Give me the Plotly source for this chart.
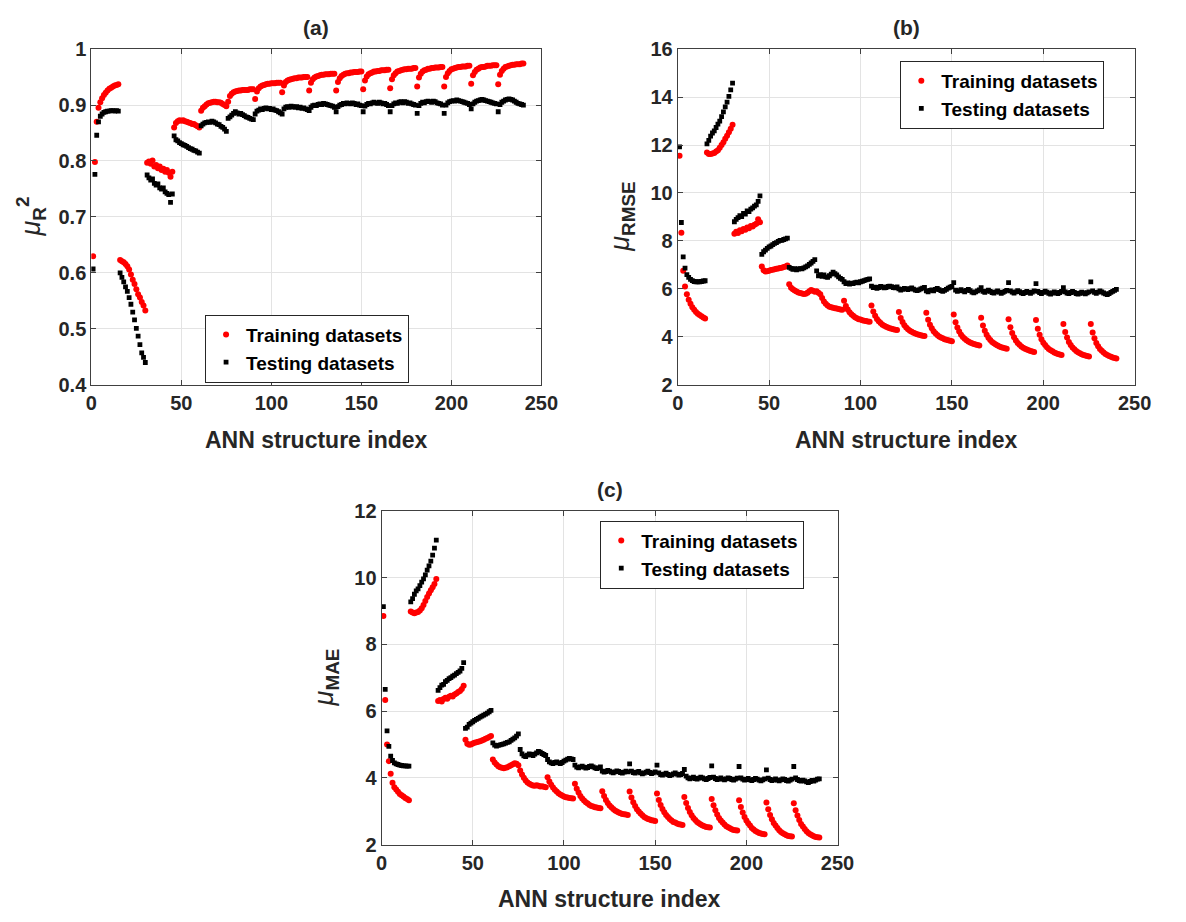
import plotly.graph_objects as go

# ANN structure index (x categories)
structure_index = list(range(1, 241))

# ---------------- Panel (a): mean R^2 ----------------
r2_train = [
    0.630, 0.798, 0.870, 0.895, 0.905, 0.912, 0.918, 0.922, 0.926, 0.929, 0.931, 0.933, 0.935, 0.936, 0.937,
    0.623, 0.621, 0.619, 0.616, 0.612, 0.606, 0.597, 0.588, 0.580, 0.571, 0.562, 0.556, 0.548, 0.542, 0.533,
    0.797, 0.799, 0.795, 0.801, 0.790, 0.793, 0.787, 0.790, 0.784, 0.786, 0.781, 0.784, 0.779, 0.772, 0.781,
    0.860, 0.868, 0.871, 0.873, 0.872, 0.873, 0.871, 0.870, 0.869, 0.868, 0.866, 0.866, 0.864, 0.862, 0.860,
    0.890, 0.895, 0.898, 0.901, 0.903, 0.904, 0.905, 0.906, 0.906, 0.905, 0.905, 0.904, 0.902, 0.900, 0.898,
    0.906, 0.916, 0.920, 0.923, 0.924, 0.925, 0.926, 0.926, 0.927, 0.927, 0.927, 0.927, 0.928, 0.928, 0.928,
    0.911, 0.924, 0.930, 0.933, 0.935, 0.936, 0.937, 0.938, 0.938, 0.939, 0.939, 0.939, 0.940, 0.940, 0.940,
    0.923, 0.935, 0.941, 0.944, 0.945, 0.946, 0.947, 0.948, 0.948, 0.949, 0.949, 0.949, 0.950, 0.950, 0.950,
    0.926, 0.940, 0.946, 0.949, 0.951, 0.952, 0.953, 0.954, 0.954, 0.955, 0.955, 0.955, 0.956, 0.956, 0.956,
    0.926, 0.941, 0.948, 0.952, 0.954, 0.956, 0.957, 0.957, 0.958, 0.958, 0.959, 0.959, 0.959, 0.960, 0.960,
    0.928, 0.944, 0.951, 0.955, 0.957, 0.958, 0.960, 0.960, 0.961, 0.961, 0.962, 0.962, 0.962, 0.963, 0.963,
    0.930, 0.946, 0.953, 0.957, 0.960, 0.961, 0.962, 0.963, 0.964, 0.964, 0.965, 0.965, 0.965, 0.966, 0.966,
    0.933, 0.949, 0.956, 0.960, 0.962, 0.963, 0.965, 0.965, 0.966, 0.966, 0.967, 0.967, 0.967, 0.968, 0.968,
    0.933, 0.950, 0.957, 0.961, 0.964, 0.965, 0.966, 0.967, 0.968, 0.968, 0.969, 0.969, 0.969, 0.970, 0.970,
    0.938, 0.953, 0.959, 0.963, 0.965, 0.967, 0.968, 0.968, 0.969, 0.970, 0.970, 0.970, 0.971, 0.971, 0.971,
    0.937, 0.954, 0.961, 0.965, 0.968, 0.969, 0.970, 0.971, 0.972, 0.972, 0.973, 0.973, 0.973, 0.974, 0.974,
]
r2_test = [
    0.607, 0.776, 0.846, 0.870, 0.880, 0.884, 0.887, 0.888, 0.889, 0.889, 0.890, 0.890, 0.889, 0.890, 0.889,
    0.600, 0.592, 0.584, 0.575, 0.567, 0.556, 0.544, 0.530, 0.516, 0.501, 0.487, 0.472, 0.457, 0.449, 0.440,
    0.775, 0.770, 0.766, 0.768, 0.760, 0.757, 0.759, 0.752, 0.750, 0.752, 0.745, 0.742, 0.740, 0.726, 0.741,
    0.845, 0.838, 0.836, 0.833, 0.831, 0.829, 0.828, 0.826, 0.824, 0.822, 0.821, 0.819, 0.818, 0.816, 0.814,
    0.863, 0.866, 0.868, 0.869, 0.870, 0.869, 0.871, 0.870, 0.868, 0.866, 0.865, 0.862, 0.860, 0.857, 0.853,
    0.876, 0.879, 0.882, 0.885, 0.888, 0.886, 0.884, 0.885, 0.883, 0.881, 0.879, 0.878, 0.876, 0.875, 0.874,
    0.884, 0.889, 0.891, 0.893, 0.892, 0.894, 0.895, 0.893, 0.894, 0.892, 0.893, 0.891, 0.890, 0.888, 0.886,
    0.884, 0.893, 0.896, 0.897, 0.896, 0.898, 0.897, 0.896, 0.897, 0.895, 0.896, 0.894, 0.895, 0.893, 0.892,
    0.890, 0.896, 0.899, 0.900, 0.899, 0.901, 0.902, 0.901, 0.903, 0.902, 0.901, 0.900, 0.899, 0.898, 0.896,
    0.888, 0.897, 0.900, 0.901, 0.903, 0.902, 0.904, 0.903, 0.902, 0.904, 0.903, 0.901, 0.902, 0.900, 0.899,
    0.888, 0.898, 0.901, 0.903, 0.902, 0.904, 0.905, 0.904, 0.903, 0.905, 0.904, 0.902, 0.903, 0.901, 0.899,
    0.888, 0.899, 0.902, 0.904, 0.903, 0.905, 0.906, 0.904, 0.906, 0.905, 0.903, 0.904, 0.902, 0.901, 0.900,
    0.885, 0.899, 0.903, 0.905, 0.904, 0.906, 0.907, 0.906, 0.905, 0.907, 0.906, 0.904, 0.903, 0.902, 0.900,
    0.885, 0.900, 0.904, 0.906, 0.907, 0.908, 0.907, 0.909, 0.908, 0.907, 0.906, 0.905, 0.904, 0.903, 0.901,
    0.893, 0.902, 0.905, 0.907, 0.908, 0.909, 0.910, 0.909, 0.908, 0.907, 0.906, 0.905, 0.904, 0.903, 0.902,
    0.888, 0.901, 0.905, 0.907, 0.909, 0.910, 0.911, 0.910, 0.909, 0.907, 0.905, 0.903, 0.902, 0.901, 0.900,
]

# ---------------- Panel (b): mean RMSE ----------------
rmse_train = [
    11.55, 8.34, 6.76, 6.10, 5.78, 5.55, 5.38, 5.24, 5.13, 5.04, 4.97, 4.91, 4.86, 4.81, 4.77,
    11.69, 11.62, 11.62, 11.65, 11.67, 11.73, 11.78, 11.89, 12.00, 12.12, 12.26, 12.39, 12.53, 12.68, 12.84,
    8.30, 8.38, 8.33, 8.45, 8.40, 8.50, 8.47, 8.56, 8.53, 8.62, 8.60, 8.68, 8.72, 8.90, 8.78,
    6.94, 6.78, 6.73, 6.74, 6.76, 6.79, 6.80, 6.82, 6.84, 6.85, 6.87, 6.88, 6.91, 6.94, 6.98,
    6.19, 6.05, 5.99, 5.93, 5.89, 5.85, 5.83, 5.81, 5.79, 5.80, 5.84, 5.90, 5.95, 5.92, 5.88,
    5.90, 5.84, 5.78, 5.62, 5.48, 5.38, 5.31, 5.26, 5.24, 5.21, 5.19, 5.18, 5.16, 5.14, 5.13,
    5.51, 5.29, 5.14, 5.03, 4.94, 4.88, 4.82, 4.78, 4.74, 4.72, 4.69, 4.67, 4.66, 4.64, 4.63,
    5.31, 5.06, 4.88, 4.75, 4.65, 4.58, 4.51, 4.46, 4.42, 4.39, 4.36, 4.34, 4.32, 4.30, 4.29,
    5.04, 4.79, 4.62, 4.49, 4.39, 4.32, 4.26, 4.21, 4.17, 4.14, 4.11, 4.09, 4.07, 4.05, 4.04,
    5.01, 4.71, 4.51, 4.36, 4.24, 4.15, 4.08, 4.02, 3.97, 3.94, 3.90, 3.88, 3.86, 3.84, 3.82,
    4.93, 4.61, 4.39, 4.22, 4.09, 4.00, 3.92, 3.86, 3.81, 3.77, 3.73, 3.70, 3.68, 3.66, 3.64,
    4.80, 4.48, 4.26, 4.09, 3.96, 3.87, 3.79, 3.73, 3.68, 3.64, 3.60, 3.57, 3.55, 3.53, 3.51,
    4.74, 4.40, 4.16, 3.99, 3.85, 3.75, 3.67, 3.60, 3.55, 3.51, 3.47, 3.44, 3.41, 3.39, 3.37,
    4.70, 4.34, 4.09, 3.90, 3.76, 3.66, 3.57, 3.50, 3.44, 3.40, 3.35, 3.32, 3.29, 3.27, 3.25,
    4.54, 4.20, 3.97, 3.79, 3.66, 3.56, 3.48, 3.41, 3.36, 3.32, 3.28, 3.25, 3.22, 3.20, 3.18,
    4.54, 4.18, 3.94, 3.75, 3.61, 3.50, 3.42, 3.35, 3.29, 3.25, 3.20, 3.17, 3.14, 3.12, 3.10,
]
rmse_test = [
    11.92, 8.77, 7.34, 6.87, 6.60, 6.48, 6.40, 6.35, 6.31, 6.30, 6.29, 6.30, 6.31, 6.33, 6.34,
    12.05, 12.19, 12.37, 12.50, 12.59, 12.73, 12.87, 13.00, 13.18, 13.38, 13.59, 13.79, 14.03, 14.30, 14.58,
    8.80, 8.90, 8.97, 9.05, 9.02, 9.15, 9.12, 9.25, 9.22, 9.33, 9.38, 9.45, 9.50, 9.65, 9.88,
    7.44, 7.55, 7.62, 7.69, 7.75, 7.79, 7.85, 7.90, 7.93, 7.98, 8.02, 8.02, 8.06, 8.09, 8.12,
    6.90, 6.86, 6.82, 6.84, 6.80, 6.83, 6.85, 6.84, 6.88, 6.92, 6.96, 7.02, 7.08, 7.15, 7.22,
    6.75, 6.55, 6.60, 6.52, 6.58, 6.50, 6.48, 6.55, 6.62, 6.70, 6.64, 6.58, 6.50, 6.44, 6.40,
    6.30, 6.22, 6.25, 6.20, 6.24, 6.22, 6.26, 6.28, 6.25, 6.30, 6.32, 6.35, 6.38, 6.40, 6.42,
    6.12, 6.05, 6.07, 6.02, 6.06, 6.10, 6.08, 6.04, 6.06, 6.10, 6.12, 6.09, 6.06, 6.04, 6.08,
    6.00, 5.95, 5.98, 6.02, 6.00, 5.97, 6.01, 6.04, 5.99, 5.95, 5.93, 5.96, 6.00, 6.03, 6.06,
    5.92, 5.88, 5.94, 5.96, 5.92, 5.98, 6.02, 5.97, 5.93, 5.90, 5.94, 5.98, 6.03, 6.07, 6.10,
    6.26, 5.95, 5.90, 5.93, 5.97, 5.92, 5.88, 5.94, 5.98, 5.93, 5.87, 5.84, 5.88, 5.92, 5.96,
    6.05, 5.90, 5.86, 5.91, 5.95, 5.90, 5.85, 5.83, 5.88, 5.92, 5.87, 5.82, 5.86, 5.90, 5.94,
    6.26, 5.92, 5.87, 5.83, 5.88, 5.93, 5.89, 5.84, 5.80, 5.85, 5.90, 5.86, 5.82, 5.87, 5.92,
    6.22, 5.90, 5.85, 5.81, 5.86, 5.91, 5.87, 5.82, 5.78, 5.83, 5.88, 5.84, 5.80, 5.85, 5.90,
    6.05, 5.88, 5.83, 5.80, 5.85, 5.90, 5.86, 5.81, 5.78, 5.82, 5.87, 5.83, 5.79, 5.84, 5.88,
    6.29, 5.92, 5.86, 5.82, 5.87, 5.92, 5.88, 5.83, 5.79, 5.76, 5.80, 5.86, 5.90, 5.94, 5.98,
]

# ---------------- Panel (c): mean MAE ----------------
mae_train = [
    8.85, 6.33, 5.00, 4.50, 4.12, 3.85, 3.72, 3.65, 3.58, 3.52, 3.48, 3.44, 3.40, 3.37, 3.33,
    8.98, 8.95, 8.93, 8.95, 8.97, 9.01, 9.08, 9.18, 9.30, 9.42, 9.52, 9.62, 9.71, 9.81, 9.96,
    6.30, 6.33, 6.29, 6.36, 6.40, 6.37, 6.43, 6.46, 6.44, 6.50, 6.53, 6.57, 6.60, 6.66, 6.76,
    5.14, 5.02, 4.99, 5.00, 5.03, 5.05, 5.07, 5.08, 5.10, 5.12, 5.14, 5.17, 5.19, 5.22, 5.25,
    4.55, 4.46, 4.40, 4.35, 4.32, 4.30, 4.29, 4.30, 4.32, 4.35, 4.38, 4.41, 4.44, 4.42, 4.38,
    4.22, 4.10, 4.00, 3.92, 3.86, 3.82, 3.79, 3.77, 3.76, 3.78, 3.76, 3.74, 3.75, 3.73, 3.72,
    4.02, 3.89, 3.79, 3.71, 3.64, 3.59, 3.54, 3.50, 3.47, 3.44, 3.42, 3.41, 3.40, 3.39, 3.38,
    3.82, 3.67, 3.56, 3.46, 3.38, 3.32, 3.27, 3.23, 3.19, 3.16, 3.14, 3.12, 3.11, 3.10, 3.09,
    3.60, 3.46, 3.34, 3.25, 3.17, 3.12, 3.07, 3.02, 2.99, 2.96, 2.94, 2.92, 2.91, 2.90, 2.89,
    3.59, 3.41, 3.27, 3.16, 3.06, 2.99, 2.93, 2.88, 2.83, 2.80, 2.77, 2.75, 2.73, 2.72, 2.71,
    3.53, 3.34, 3.19, 3.07, 2.97, 2.89, 2.83, 2.77, 2.72, 2.68, 2.66, 2.63, 2.61, 2.60, 2.59,
    3.43, 3.25, 3.10, 2.98, 2.88, 2.80, 2.74, 2.68, 2.64, 2.60, 2.57, 2.55, 2.53, 2.52, 2.51,
    3.37, 3.18, 3.03, 2.90, 2.80, 2.72, 2.66, 2.60, 2.55, 2.52, 2.49, 2.46, 2.44, 2.43, 2.42,
    3.33, 3.13, 2.96, 2.83, 2.72, 2.64, 2.57, 2.50, 2.45, 2.41, 2.38, 2.35, 2.33, 2.32, 2.31,
    3.26, 3.06, 2.89, 2.76, 2.65, 2.57, 2.50, 2.43, 2.38, 2.34, 2.31, 2.28, 2.26, 2.25, 2.24,
    3.24, 3.03, 2.87, 2.74, 2.62, 2.54, 2.47, 2.40, 2.35, 2.31, 2.28, 2.25, 2.23, 2.22, 2.21,
]
mae_test = [
    9.13, 6.65, 5.41, 4.94, 4.65, 4.52, 4.45, 4.42, 4.40, 4.38, 4.37, 4.36, 4.36, 4.35, 4.35,
    9.27, 9.37, 9.50, 9.60, 9.66, 9.76, 9.86, 9.96, 10.08, 10.22, 10.35, 10.49, 10.67, 10.88, 11.12,
    6.62, 6.70, 6.78, 6.80, 6.88, 6.92, 6.97, 7.00, 7.05, 7.08, 7.12, 7.16, 7.20, 7.28, 7.45,
    5.48, 5.52, 5.60, 5.64, 5.68, 5.72, 5.75, 5.78, 5.82, 5.85, 5.88, 5.91, 5.94, 5.98, 6.02,
    5.05, 4.98, 4.95, 4.97, 4.99, 5.00, 5.02, 5.04, 5.06, 5.08, 5.12, 5.16, 5.20, 5.25, 5.32,
    4.85, 4.72, 4.66, 4.64, 4.68, 4.72, 4.70, 4.67, 4.71, 4.75, 4.79, 4.77, 4.73, 4.70, 4.67,
    4.55, 4.48, 4.45, 4.43, 4.46, 4.48, 4.45, 4.43, 4.46, 4.50, 4.53, 4.56, 4.58, 4.57, 4.55,
    4.38, 4.32, 4.30, 4.33, 4.35, 4.32, 4.29, 4.31, 4.34, 4.36, 4.33, 4.30, 4.28, 4.30, 4.33,
    4.20, 4.17, 4.19, 4.22, 4.20, 4.17, 4.15, 4.18, 4.21, 4.19, 4.16, 4.14, 4.17, 4.20, 4.18,
    4.42, 4.20, 4.16, 4.14, 4.17, 4.19, 4.15, 4.12, 4.14, 4.17, 4.20, 4.16, 4.13, 4.15, 4.18,
    4.38, 4.15, 4.10, 4.08, 4.11, 4.14, 4.10, 4.07, 4.09, 4.12, 4.15, 4.11, 4.08, 4.10, 4.13,
    4.25, 4.05, 4.00, 3.97, 3.99, 4.02, 3.98, 3.96, 3.99, 4.02, 4.00, 3.97, 3.95, 3.98, 4.01,
    4.36, 4.02, 3.98, 3.95, 3.97, 4.00, 3.96, 3.94, 3.97, 4.00, 3.98, 3.95, 3.93, 3.96, 3.99,
    4.34, 4.00, 3.96, 3.93, 3.95, 3.98, 3.94, 3.92, 3.95, 3.98, 3.96, 3.93, 3.91, 3.94, 3.97,
    4.24, 3.99, 3.95, 3.92, 3.94, 3.97, 3.93, 3.91, 3.94, 3.97, 3.95, 3.92, 3.90, 3.93, 3.96,
    4.34, 4.00, 3.95, 3.92, 3.90, 3.93, 3.91, 3.88, 3.86, 3.89, 3.92, 3.90, 3.93, 3.96, 3.97,
]

x_ticks = [0, 50, 100, 150, 200, 250]
r2_ticks = [0.4, 0.5, 0.6, 0.7, 0.8, 0.9, 1.0]
r2_ticktext = ["0.4", "0.5", "0.6", "0.7", "0.8", "0.9", "1"]
rmse_ticks = [2, 4, 6, 8, 10, 12, 14, 16]
mae_ticks = [2, 4, 6, 8, 10, 12]

series_names = ["Training datasets", "Testing datasets"]
panel_titles = ["(a)", "(b)", "(c)"]
x_title = "ANN structure index"
y_titles = ["<i>μ</i><sub><b>R</b></sub><sup><b>2</b></sup>",
            "<i>μ</i><sub><b>RMSE</b></sub>",
            "<i>μ</i><sub><b>MAE</b></sub>"]

FONT = "Liberation Sans, Arial, sans-serif"
TXT = "#262626"
W, H = 1186, 922

fig = go.Figure()

panels = [
    ("x", "y", r2_train, r2_test, "legend"),
    ("x2", "y2", rmse_train, rmse_test, "legend2"),
    ("x3", "y3", mae_train, mae_test, "legend3"),
]
for xa, ya, tr, te, lg in panels:
    fig.add_trace(go.Scatter(
        x=structure_index, y=tr, mode="markers", name=series_names[0],
        marker=dict(symbol="circle", color="#ff0000", size=6, line=dict(width=0)),
        xaxis=xa, yaxis=ya, legend=lg))
    fig.add_trace(go.Scatter(
        x=structure_index, y=te, mode="markers", name=series_names[1],
        marker=dict(symbol="square", color="#000000", size=4.8, line=dict(width=0)),
        xaxis=xa, yaxis=ya, legend=lg))

# pixel boxes of the three plot areas (left, right, top, bottom)
boxes = [(87, 546, 39, 383), (685, 1151, 39, 383), (383, 848, 512, 854)]


def px2paper_x(v):
    return v / W


def px2paper_y(v):
    return 1 - v / H


axis_common = dict(
    showline=True, linecolor="#404040", linewidth=1, mirror="ticks",
    ticks="inside", ticklen=5, tickcolor="#404040",
    showgrid=True, gridcolor="#e3e3e3", gridwidth=1, zeroline=False,
    tickfont=dict(family=FONT, size=20, color=TXT, weight="bold"),
)

yticks = [(r2_ticks, r2_ticktext, [0.4, 1.0]),
          (rmse_ticks, [str(v) for v in rmse_ticks], [2, 16]),
          (mae_ticks, [str(v) for v in mae_ticks], [2, 12])]

layout_axes = {}
for i, (l, r, t, b) in enumerate(boxes):
    sfx = "" if i == 0 else str(i + 1)
    layout_axes["xaxis" + sfx] = dict(
        axis_common, domain=[px2paper_x(l), px2paper_x(r)], range=[0, 250],
        tickvals=x_ticks, ticktext=[str(v) for v in x_ticks],
        anchor="y" + sfx)
    tv, tt, rg = yticks[i]
    layout_axes["yaxis" + sfx] = dict(
        axis_common, domain=[px2paper_y(b), px2paper_y(t)], range=rg,
        tickvals=tv, ticktext=tt, anchor="x" + sfx)

fig.update_layout(**layout_axes)

annotations = []
ylab_x = [25, 628, 326]
for i, (l, r, t, b) in enumerate(boxes):
    cx = (l + r) / 2
    annotations.append(dict(
        text="<b>%s</b>" % panel_titles[i], x=px2paper_x(cx), y=px2paper_y(t - 22),
        xref="paper", yref="paper", showarrow=False, xanchor="center", yanchor="middle",
        font=dict(family=FONT, size=21, color=TXT)))
    annotations.append(dict(
        text="<b>%s</b>" % x_title, x=px2paper_x(cx), y=px2paper_y(b + 56),
        xref="paper", yref="paper", showarrow=False, xanchor="center", yanchor="middle",
        font=dict(family=FONT, size=23, color=TXT)))
    annotations.append(dict(
        text=y_titles[i], x=px2paper_x(ylab_x[i]), y=px2paper_y((t + b) / 2),
        xref="paper", yref="paper", showarrow=False, xanchor="center", yanchor="middle",
        textangle=-90, font=dict(family=FONT, size=27, color=TXT)))

legend_common = dict(
    xanchor="left", yanchor="top", bgcolor="white", bordercolor="#262626",
    borderwidth=1, font=dict(family=FONT, size=19, color="#000000", weight="bold"),
    itemsizing="trace", tracegroupgap=0, xref="paper", yref="paper")

fig.update_layout(
    width=W, height=H,
    margin=dict(l=0, r=0, t=0, b=0),
    paper_bgcolor="white", plot_bgcolor="white",
    showlegend=True,
    annotations=annotations,
    legend=dict(legend_common, x=px2paper_x(203), y=px2paper_y(311)),
    legend2=dict(legend_common, x=px2paper_x(912), y=px2paper_y(51)),
    legend3=dict(legend_common, x=px2paper_x(606), y=px2paper_y(522)),
)

fig.write_html("out.html")
